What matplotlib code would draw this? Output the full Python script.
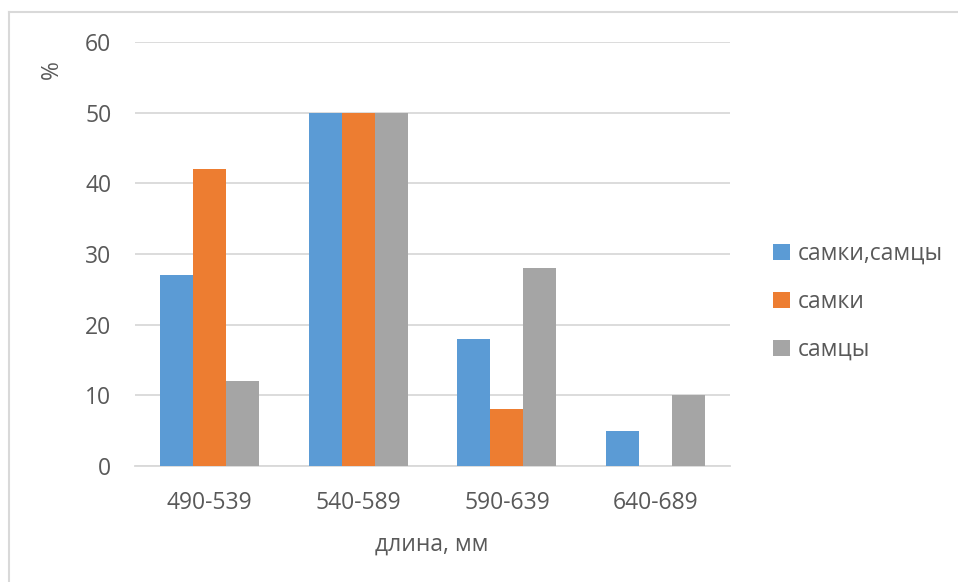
import numpy as np
import matplotlib
matplotlib.use("Agg")
import matplotlib.pyplot as plt
from matplotlib.lines import Line2D

plt.rcParams['font.family'] = ['Open Sans', 'DejaVu Sans']

# length classes and share of fish in each, %
categories = ["490-539", "540-589", "590-639", "640-689"]
series_names = ["самки,самцы", "самки", "самцы"]
both_sexes = [27, 50, 18, 5]
females = [42, 50, 8, 0]
males = [12, 50, 28, 10]
y_ticks = [0, 10, 20, 30, 40, 50, 60]

colors = ["#5B9BD5", "#ED7D31", "#A5A5A5"]
text_color = "#595959"
grid_color = "#D9D9D9"
fs = 16.5

W, H = 958, 582
fig = plt.figure(figsize=(W / 100, H / 100), dpi=100)
ax = fig.add_axes([135 / W, 1 - 466 / H, 595 / W, (466 - 42) / H])

x = np.arange(len(categories))
bar_w = 0.222
for i, (vals, name) in enumerate(zip([both_sexes, females, males], series_names)):
    ax.bar(x + (i - 1) * bar_w, vals, width=bar_w, color=colors[i], label=name, zorder=3)

ax.set_xlim(-0.5, len(categories) - 0.5)
ax.set_ylim(0, 60)
ax.set_yticks(y_ticks)
ax.set_xticks(x)
ax.set_xticklabels(categories)
ax.tick_params(axis='both', length=0, labelsize=fs, colors=text_color)
ax.tick_params(axis='y', pad=17)
ax.tick_params(axis='x', pad=18)
ax.grid(axis='y', color=grid_color, linewidth=1.3, zorder=0)
for side in ['top', 'right', 'left']:
    ax.spines[side].set_visible(False)
ax.spines['bottom'].set_color(grid_color)
ax.spines['bottom'].set_linewidth(1.3)

fig.text(432 / W, 1 - 545 / H, "длина, мм", ha='center', va='center',
         fontsize=fs, color=text_color)
fig.text(52 / W, 1 - 70 / H, "%", ha='center', va='center', rotation=90,
         fontsize=fs, color=text_color)

leg = ax.legend(loc='center left', bbox_to_anchor=(762 / W, 1 - 302 / H),
                bbox_transform=fig.transFigure, frameon=False, fontsize=fs,
                handlelength=0.7, handleheight=0.7, handletextpad=0.35,
                labelspacing=1.05, borderpad=0)
for t in leg.get_texts():
    t.set_color(text_color)

# chart frame (only the left and top edges fall inside the image)
fig.add_artist(Line2D([9 / W, 9 / W], [0, 1 - 12 / H], color=grid_color, linewidth=1.5))
fig.add_artist(Line2D([9 / W, 1], [1 - 12 / H, 1 - 12 / H], color=grid_color, linewidth=1.5))

fig.savefig("out.png", dpi=100, facecolor="white")
